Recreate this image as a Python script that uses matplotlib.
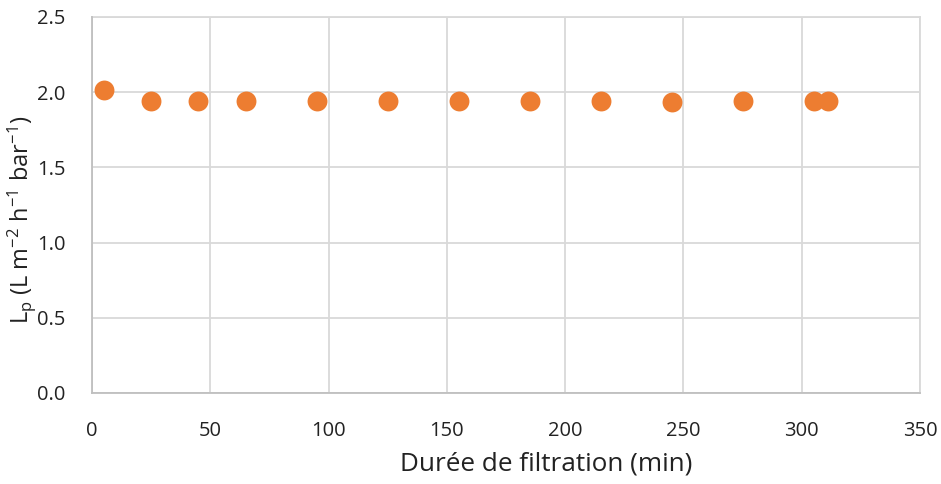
import matplotlib
matplotlib.use("Agg")
import matplotlib.pyplot as plt

# Data
duree = [5, 25, 45, 65, 95, 125, 155, 185, 215, 245, 275, 305, 311]
lp = [2.015, 1.94, 1.94, 1.94, 1.94, 1.94, 1.94, 1.94, 1.94, 1.935, 1.94, 1.94, 1.94]
xticks = [0, 50, 100, 150, 200, 250, 300, 350]
yticks = [0.0, 0.5, 1.0, 1.5, 2.0, 2.5]

plt.rcParams['font.family'] = ['Open Sans', 'DejaVu Sans']
plt.rcParams['mathtext.fontset'] = 'custom'
plt.rcParams['mathtext.rm'] = 'Open Sans'
plt.rcParams['mathtext.it'] = 'Open Sans'

fig = plt.figure(figsize=(9.41, 4.84), dpi=100)
ax = fig.add_axes([92/941, 1 - 393/484, (920-92)/941, (393-17)/484])

ax.scatter(duree, lp, s=205, color='#ED7D31', zorder=3, linewidths=0)

ax.set_xlim(0, 350)
ax.set_ylim(0, 2.5)
ax.set_xticks(xticks)
ax.set_yticks(yticks)
ax.set_yticklabels([f"{v:.1f}" for v in yticks])
ax.set_xticklabels([str(v) for v in xticks])

ax.grid(True, color='#D9D9D9', linewidth=1.3, zorder=0)
ax.set_axisbelow(True)
for s in ['top', 'right']:
    ax.spines[s].set_visible(False)
for s in ['left', 'bottom']:
    ax.spines[s].set_color('#BFBFBF')
    ax.spines[s].set_linewidth(1.3)
ax.tick_params(length=0, labelsize=14.5, colors='#000000')
ax.tick_params(axis='x', pad=20)
ax.tick_params(axis='y', pad=19)
for lbl in ax.get_xticklabels() + ax.get_yticklabels():
    lbl.set_color('#222222')

# Grid lines at edges
ax.axhline(2.5, color='#D9D9D9', linewidth=1.3, zorder=0, clip_on=False)
ax.axvline(350, color='#D9D9D9', linewidth=1.3, zorder=0, clip_on=False)

ax.set_xlabel('Durée de filtration (min)', fontsize=18.8, color='#222222', va='center')
ax.xaxis.set_label_coords((546 - 92) / 828, (393 - 464) / 376)
ax.set_ylabel(r'L$_\mathrm{p}$ (L m$^{-2}$ h$^{-1}$ bar$^{-1}$)', fontsize=17, color='#222222', va='center')
ax.yaxis.set_label_coords((22 - 92) / 828, (393 - 220) / 376)

fig.savefig('out.png', dpi=100)
